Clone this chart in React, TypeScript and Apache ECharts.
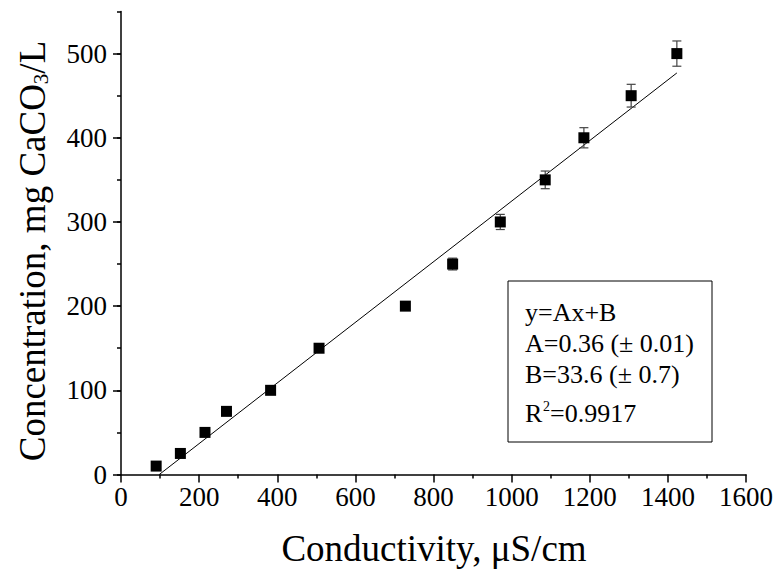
import React, { useEffect, useRef } from "react";
import * as echarts from "echarts";

const conductivity = [90, 152, 215, 270, 383, 507, 728, 849, 971, 1086, 1185, 1306, 1423];
const concentration = [10, 25, 50, 75, 100, 150, 200, 250, 300, 350, 400, 450, 500];
const errors = [1, 1, 2, 3, 3, 4, 5, 7, 9, 10.5, 12, 13.5, 15];
const fitX = [98, 1423];
const fitY = [0, 477];
const yMajorTicks = [0, 100, 200, 300, 400, 500];
const fitLines = ["y=Ax+B", "A=0.36 (\u00b1 0.01)", "B=33.6 (\u00b1 0.7)"];
const r2Value = "=0.9917";

const FONT = "Liberation Serif";

export default function App() {
  const ref = useRef<HTMLDivElement>(null);
  useEffect(() => {
    if (!ref.current) return;
    const chart = echarts.init(ref.current, null, { renderer: "svg" });
    const pts = conductivity.map((x, i) => [x, concentration[i]]);
    const errData = conductivity.map((x, i) => [x, concentration[i] - errors[i], concentration[i] + errors[i]]);
    const axisLine = { show: true, lineStyle: { color: "#000", width: 1.5 } };
    const txt = (size: number) => ({ fontFamily: FONT, fontSize: size, fill: "#000" });
    chart.setOption({
      animation: false,
      backgroundColor: "#fff",
      grid: { left: 121, top: 11.5, right: 30, bottom: 96.5, containLabel: false },
      xAxis: {
        type: "value",
        min: 0,
        max: 1600,
        interval: 200,
        axisLine,
        axisTick: { show: true, length: 8, lineStyle: { color: "#000", width: 1.5 } },
        minorTick: { show: true, splitNumber: 2, length: 4, lineStyle: { color: "#000", width: 1.5 } },
        splitLine: { show: false },
        axisLabel: { color: "#000", fontFamily: FONT, fontSize: 27, margin: 9, formatter: (v: number) => String(v) },
      },
      yAxis: [
        {
          type: "value",
          min: 0,
          max: 550,
          interval: 50,
          axisLine,
          axisTick: { show: true, length: 4, lineStyle: { color: "#000", width: 1.5 } },
          axisLabel: { show: false },
          splitLine: { show: false },
        },
        {
          type: "value",
          position: "left",
          min: 0,
          max: 550,
          interval: 50,
          axisLine: { show: false },
          axisTick: { show: true, length: 8, customValues: yMajorTicks, lineStyle: { color: "#000", width: 1.5 } },
          axisLabel: {
            show: true,
            customValues: yMajorTicks,
            color: "#000",
            fontFamily: FONT,
            fontSize: 27,
            margin: 14,
            formatter: (v: number) => String(v),
          },
          splitLine: { show: false },
        },
      ],
      series: [
        {
          type: "line",
          data: fitX.map((x, i) => [x, fitY[i]]),
          showSymbol: false,
          symbol: "none",
          lineStyle: { color: "#000", width: 1 },
          silent: true,
          z: 1,
        },
        {
          type: "custom",
          data: errData,
          z: 2,
          renderItem: (params: any, api: any) => {
            const x = api.value(0);
            const lo = api.coord([x, api.value(1)]);
            const hi = api.coord([x, api.value(2)]);
            const hw = 4.5;
            const style = { stroke: "#444", lineWidth: 1.2 };
            return {
              type: "group",
              children: [
                { type: "line", shape: { x1: lo[0], y1: lo[1], x2: hi[0], y2: hi[1] }, style },
                { type: "line", shape: { x1: lo[0] - hw, y1: lo[1], x2: lo[0] + hw, y2: lo[1] }, style },
                { type: "line", shape: { x1: hi[0] - hw, y1: hi[1], x2: hi[0] + hw, y2: hi[1] }, style },
              ],
            };
          },
        },
        {
          type: "scatter",
          data: pts,
          symbol: "rect",
          symbolSize: 11,
          itemStyle: { color: "#000", opacity: 1 },
          z: 3,
        },
      ],
      graphic: [
        {
          type: "rect",
          shape: { x: 508, y: 281, width: 204, height: 161 },
          style: { fill: "#fff", stroke: "#000", lineWidth: 1 },
          z: 0,
        },
        ...fitLines.map((t, i) => ({
          type: "text",
          x: 525,
          y: 312 + i * 31,
          style: { text: t, ...txt(26), verticalAlign: "middle", align: "left" },
          z: 10,
        })),
        {
          type: "text",
          x: 525,
          y: 413,
          style: { text: "R", ...txt(26), verticalAlign: "middle", align: "left" },
          z: 10,
        },
        {
          type: "text",
          x: 543,
          y: 406,
          style: { text: "2", ...txt(14), verticalAlign: "middle", align: "left" },
          z: 10,
        },
        {
          type: "text",
          x: 550,
          y: 413,
          style: { text: r2Value, ...txt(26), verticalAlign: "middle", align: "left" },
          z: 10,
        },
        {
          type: "text",
          x: 434,
          y: 548,
          style: { text: "Conductivity, \u03bcS/cm", ...txt(37), verticalAlign: "middle", align: "center" },
        },
        {
          type: "text",
          x: 32,
          y: 251,
          rotation: Math.PI / 2,
          style: {
            text: "Concentration, mg CaCO{sub|3}/L",
            ...txt(37),
            verticalAlign: "middle",
            align: "center",
            rich: {
              sub: { fontFamily: FONT, fontSize: 21, fill: "#000", verticalAlign: "bottom", padding: [18, 0, 0, 0] },
            },
          },
        },
      ],
    });
    return () => chart.dispose();
  }, []);
  return <div ref={ref} style={{ width: 776, height: 571, position: "absolute", left: 0, top: 0 }} />;
}
